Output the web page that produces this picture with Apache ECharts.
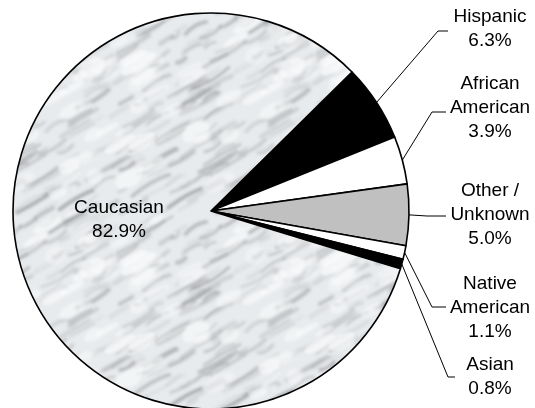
<!DOCTYPE html>
<html>
<head>
<meta charset="utf-8">
<script src="https://cdn.jsdelivr.net/npm/echarts@6/dist/echarts.min.js"></script>
<style>
  html, body { margin: 0; padding: 0; background: #fff; }
  #chart { width: 535px; height: 408px; }
</style>
</head>
<body>
<div id="chart"></div>
<script>
// data
const groups = ['Hispanic', 'African American', 'Other / Unknown', 'Native American', 'Asian', 'Caucasian']
const shares = [6.3, 3.9, 5.0, 1.1, 0.8, 82.9]

// label anchors (text centre, elbow of leader line, end of leader line)
const labelPos = [
  { x: 490, y: 29, elbow: [438, 31], end: 448 },
  { x: 490, y: 108, elbow: [432, 112], end: 446 },
  { x: 490, y: 215, elbow: [427, 216], end: 446 },
  { x: 490, y: 308, elbow: [432, 307], end: 446 },
  { x: 490, y: 377, elbow: [448, 377], end: 455 },
  { x: 119, y: 220 }
]

// soft marble texture for the big slice (seeded so it is stable)
function marble() {
  const W = 200
  const c = document.createElement('canvas')
  c.width = W
  c.height = W
  const g = c.getContext('2d')
  g.fillStyle = '#e8ebed'
  g.fillRect(0, 0, W, W)
  let s = 987654
  const rnd = () => ((s = (s * 16807) % 2147483647) / 2147483647)
  const strokes = []
  for (let i = 0; i < 170; i++) {
    const len = 8 + rnd() * 35
    const shade = 120 + Math.floor(rnd() * 80)
    strokes.push({
      x: rnd() * W, y: rnd() * W, len,
      bend: (rnd() - 0.5) * 12,
      col: `rgba(${shade},${shade + 2},${shade + 6},${0.2 + rnd() * 0.35})`,
      w: 1.2 + rnd() * 3.5
    })
  }
  const spots = []
  for (let i = 0; i < 45; i++) {
    spots.push({ x: rnd() * W, y: rnd() * W, rx: 6 + rnd() * 14, ry: 3 + rnd() * 6, a: 0.35 + rnd() * 0.4 })
  }
  g.filter = 'blur(1.6px)'
  for (const ox of [-W, 0, W]) {
    for (const oy of [-W, 0, W]) {
      for (const st of strokes) {
        const x = st.x + ox, y = st.y + oy
        g.strokeStyle = st.col
        g.lineWidth = st.w
        g.lineCap = 'round'
        g.beginPath()
        g.moveTo(x, y)
        g.quadraticCurveTo(x + st.len * 0.45, y - st.len * 0.25 + st.bend, x + st.len * 0.87, y - st.len * 0.5)
        g.stroke()
      }
      for (const sp of spots) {
        g.fillStyle = `rgba(250,251,252,${sp.a})`
        g.beginPath()
        g.ellipse(sp.x + ox, sp.y + oy, sp.rx, sp.ry, -0.5, 0, Math.PI * 2)
        g.fill()
      }
    }
  }
  return c
}

const fills = ['#000000', '#ffffff', '#c0c0c0', '#ffffff', '#000000', { image: marble(), repeat: 'repeat' }]

const chart = echarts.init(document.getElementById('chart'), null, { renderer: 'canvas' })

chart.setOption({
  animation: false,
  series: [
    {
      type: 'pie',
      center: [211, 211],
      radius: 198,
      startAngle: 44.6,
      clockwise: true,
      avoidLabelOverlap: false,
      itemStyle: { borderColor: '#000', borderWidth: 1.6 },
      label: {
        show: true,
        position: 'outside',
        color: '#000',
        fontFamily: 'Liberation Sans, Arial, sans-serif',
        fontSize: 19,
        lineHeight: 24,
        align: 'center',
        formatter: p => p.name.replace(/ (?=[A-Z])/, '\n') + '\n' + p.value.toFixed(1) + '%'
      },
      labelLine: {
        show: true,
        lineStyle: { color: '#000', width: 1 }
      },
      labelLayout: p => {
        const lp = labelPos[p.dataIndex]
        if (!lp) return {}
        if (!lp.elbow) return { x: lp.x, y: lp.y, align: 'center', verticalAlign: 'middle' }
        const start = p.labelLinePoints ? p.labelLinePoints[0] : lp.elbow
        return {
          x: lp.x,
          y: lp.y,
          align: 'center',
          verticalAlign: 'middle',
          labelLinePoints: [start, lp.elbow, [lp.end, lp.elbow[1]]]
        }
      },
      data: groups.map((name, i) => {
        const item = { name, value: shares[i], itemStyle: { color: fills[i] } }
        if (name === 'Caucasian') {
          item.label = { position: 'inside', formatter: p => p.name + '\n' + p.value.toFixed(1) + '%' }
          item.labelLine = { show: false }
        }
        return item
      })
    }
  ]
})
</script>
</body>
</html>
